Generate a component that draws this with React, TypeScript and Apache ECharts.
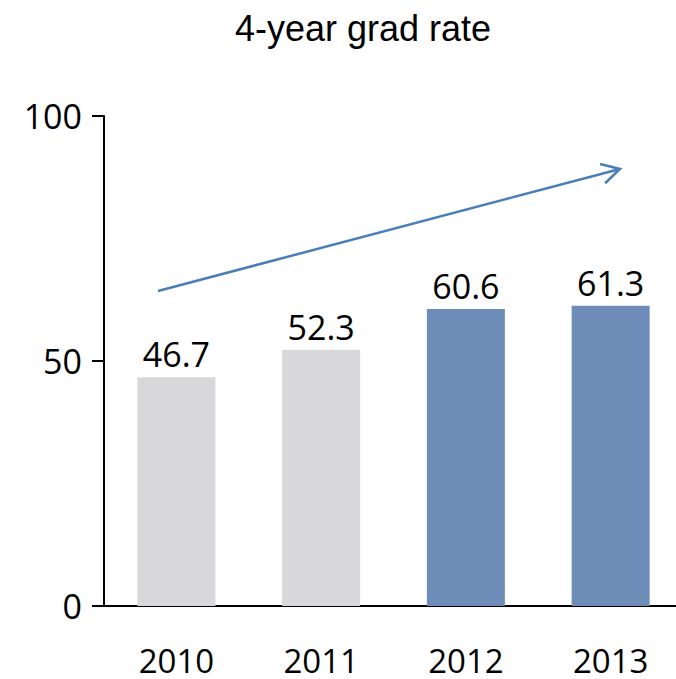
import React, { useEffect, useRef } from "react";
import * as echarts from "echarts";

const categories = ["2010", "2011", "2012", "2013"];
const values = [46.7, 52.3, 60.6, 61.3];
const barColors = ["#d8d8da", "#d8d8da", "#6d8cb8", "#6d8cb8"];
const yTicks = { min: 0, max: 100, interval: 50 };
const title = "4-year grad rate";

const labelFont = "'Open Sans', 'Noto Sans', sans-serif";

export default function App() {
  const ref = useRef<HTMLDivElement>(null);
  useEffect(() => {
    document.body.style.margin = "0";
    if (!ref.current) return;
    const chart = echarts.init(ref.current, null, { renderer: "svg" });
    const sx = 158, sy = 291, ex = 620, ey = 169;
    const dx = ex - sx, dy = ey - sy;
    const len = Math.hypot(dx, dy);
    const ux = dx / len, uy = dy / len;
    const px = -uy, py = ux;
    const back = 18, half = 10;
    const bx = ex - ux * back, by = ey - uy * back;
    chart.setOption({
      animation: false,
      title: {
        text: title,
        left: 358,
        textAlign: "center",
        top: 5,
        textStyle: {
          fontFamily: "'Liberation Sans', Arial, sans-serif",
          fontSize: 36,
          fontWeight: "normal",
          color: "#000",
        },
      },
      grid: { left: 104, top: 116, height: 490, width: 579 },
      xAxis: {
        type: "category",
        data: categories,
        axisLine: { lineStyle: { color: "#000", width: 2 } },
        axisTick: { show: false },
        axisLabel: {
          margin: 38,
          fontSize: 33,
          lineHeight: 33,
          fontFamily: labelFont,
          color: "#000",
        },
      },
      yAxis: {
        type: "value",
        min: yTicks.min,
        max: yTicks.max,
        interval: yTicks.interval,
        splitLine: { show: false },
        axisLine: { show: true, lineStyle: { color: "#000", width: 2 } },
        axisTick: { show: true, length: 12, lineStyle: { color: "#000", width: 2 } },
        axisLabel: {
          margin: 22,
          fontSize: 34,
          fontFamily: labelFont,
          color: "#000",
        },
      },
      series: [
        {
          type: "bar",
          data: values.map((v, i) => ({ value: v, itemStyle: { color: barColors[i] } })),
          barWidth: 78,
          label: {
            show: true,
            position: "top",
            distance: 6,
            fontSize: 34,
            fontFamily: labelFont,
            color: "#000",
          },
        },
      ],
      graphic: [
        {
          type: "line",
          shape: { x1: sx, y1: sy, x2: ex, y2: ey },
          style: { stroke: "#4a7ebb", lineWidth: 2.5 },
        },
        {
          type: "polyline",
          shape: {
            points: [
              [bx + px * half, by + py * half],
              [ex, ey],
              [bx - px * half, by - py * half],
            ],
          },
          style: { stroke: "#4a7ebb", lineWidth: 2.5, fill: null },
        },
      ],
    });
    return () => chart.dispose();
  }, []);
  return (
    <div style={{ width: 676, height: 679, overflow: "hidden" }}>
      <div ref={ref} style={{ width: 700, height: 679 }} />
    </div>
  );
}
